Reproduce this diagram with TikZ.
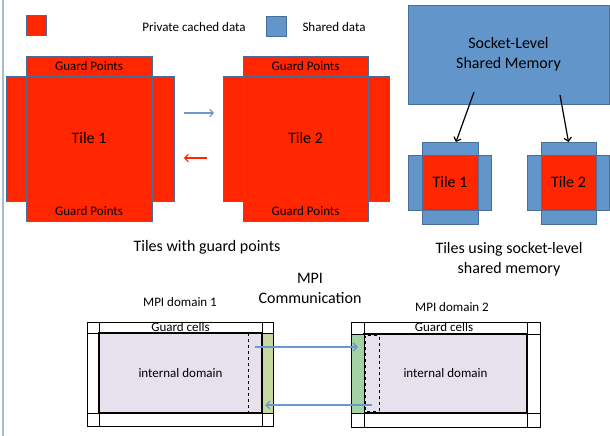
\documentclass[tikz,border=0pt]{standalone}
\usepackage{fontspec}
\setmainfont{Carlito}
\usetikzlibrary{positioning,arrows.meta}

\definecolor{cacheRed}{RGB}{255,38,0}
\definecolor{shareBlue}{RGB}{98,149,201}
\definecolor{edgeBlue}{RGB}{72,110,156}
\definecolor{arrowBlue}{RGB}{108,153,204}
\definecolor{domainFill}{RGB}{231,225,238}
\definecolor{sendGreen}{RGB}{198,216,160}
\definecolor{recvGreen}{RGB}{163,211,165}
\definecolor{frameGray}{RGB}{168,185,208}

\tikzset{
  cell/.style={draw=edgeBlue, line width=0.8bp, inner sep=0pt, outer sep=0pt},
  cached/.style={cell, fill=cacheRed},
  shared/.style={cell, fill=shareBlue},
  bigtxt/.style={font=\fontsize{16bp}{20bp}\selectfont},
  smalltxt/.style={font=\fontsize{13bp}{16bp}\selectfont},
  gridline/.style={line width=0.7bp},
  innerbox/.style={draw, line width=1.4bp, fill=domainFill, inner sep=0pt, outer sep=0pt},
  halobox/.style={draw, line width=0.7bp, inner sep=0pt, outer sep=0pt},
  thinarrow/.style={line width=1.2bp, -{Straight Barb[length=3.5bp,width=7.5bp]}},
  mpiarrow/.style={arrowBlue, line width=1.4bp, -{Straight Barb[length=4bp,width=8bp]}}
}

\begin{document}
\begin{tikzpicture}[x=1bp, y=-1bp]
	%%%%% START %%%%%
	\useasboundingbox (0,0) rectangle (610,436);
	\draw[frameGray, line width=2bp] (3,0) -- (3,436);
	
	% legend
	\node[cached, minimum size=20bp] (keyRed) at (36,25) {};
	\node[smalltxt] (keyRedTxt) at (194,27) {Private cached data};
	\node[shared, minimum size=20bp] (keyBlue) at (276,26) {};
	\node[smalltxt, anchor=west] (keyBlueTxt) at (299,27) {Shared data};
	
	% tiles with guard points
	\node[cached, bigtxt, minimum width=126bp, minimum height=125bp] (tileA) at (89,138.5) {Tile 1};
	\node[cached, smalltxt, minimum width=126bp, minimum height=20bp, above=0pt of tileA] (tileAn) {Guard Points};
	\node[cached, smalltxt, minimum width=126bp, minimum height=20bp, below=0pt of tileA] (tileAs) {Guard Points};
	\node[cached, minimum width=20bp, minimum height=125bp, left=0pt of tileA] (tileAw) {};
	\node[cached, minimum width=22bp, minimum height=125bp, right=0pt of tileA] (tileAe) {};
	
	\node[cached, bigtxt, minimum width=125bp, minimum height=125bp] (tileB) at (305.5,138.5) {Tile 2};
	\node[cached, smalltxt, minimum width=125bp, minimum height=20bp, above=0pt of tileB] (tileBn) {Guard Points};
	\node[cached, smalltxt, minimum width=125bp, minimum height=20bp, below=0pt of tileB] (tileBs) {Guard Points};
	\node[cached, minimum width=20bp, minimum height=125bp, left=0pt of tileB] (tileBw) {};
	\node[cached, minimum width=21bp, minimum height=125bp, right=0pt of tileB] (tileBe) {};
	
	\coordinate (sendA) at (184,113);
	\coordinate (sendB) at (214,113);
	\draw[arrowBlue, thinarrow] (sendA) -- (sendB);
	\coordinate (backB) at (207,158);
	\coordinate (backA) at (184,158);
	\draw[cacheRed, thinarrow] (backB) -- (backA);
	
	\node[bigtxt] (capGuard) at (207,247) {Tiles with guard points};
	
	% socket-level shared memory
	\node[shared, bigtxt, align=center, minimum width=201bp, minimum height=99bp] (socket) at (508.5,54.5) {Socket-Level\\Shared Memory};
	
	\node[cached, bigtxt, minimum width=56bp, minimum height=55bp] (smallA) at (450,182.5) {Tile 1};
	\node[shared, minimum width=56bp, minimum height=13bp, above=0pt of smallA] (smallAn) {};
	\node[shared, minimum width=56bp, minimum height=14bp, below=0pt of smallA] (smallAs) {};
	\node[shared, minimum width=14bp, minimum height=55bp, left=0pt of smallA] (smallAw) {};
	\node[shared, minimum width=13bp, minimum height=55bp, right=0pt of smallA] (smallAe) {};
	
	\node[cached, bigtxt, minimum width=55bp, minimum height=55bp] (smallB) at (568.5,182.5) {Tile 2};
	\node[shared, minimum width=55bp, minimum height=13bp, above=0pt of smallB] (smallBn) {};
	\node[shared, minimum width=55bp, minimum height=14bp, below=0pt of smallB] (smallBs) {};
	\node[shared, minimum width=14bp, minimum height=55bp, left=0pt of smallB] (smallBw) {};
	\node[shared, minimum width=13bp, minimum height=55bp, right=0pt of smallB] (smallBe) {};
	
	\coordinate (sockOutA) at (474,92);
	\coordinate (sockOutB) at (560,95);
	\draw[thinarrow] (sockOutA) -- ([xshift=6bp]smallAn.north);
	\draw[thinarrow] (sockOutB) -- (smallBn.north);
	
	\node[bigtxt, align=center] (capSocket) at (509,259) {Tiles using socket-level\\shared memory};
	
	% MPI domains
	\node[bigtxt, align=center] (mpiTitle) at (310,288) {MPI\\Communication};
	\node[smalltxt] (domLblA) at (180,302) {MPI domain 1};
	\node[smalltxt] (domLblB) at (452,307) {MPI domain 2};
	
	\draw[gridline] (87,322) rectangle (273,426);
	\draw[gridline] (99,322) -- (99,426) (262,322) -- (262,426) (87,333) -- (273,333) (87,413) -- (273,413);
	\node[innerbox, smalltxt, minimum width=163bp, minimum height=80bp] (innerA) at (180.5,373) {internal domain};
	\node[halobox, fill=sendGreen, minimum width=11bp, minimum height=80bp, right=0pt of innerA] (haloA) {};
	\draw[dashed, line width=0.8bp] ([xshift=-14bp]innerA.north east) -- ([xshift=-14bp]innerA.south east);
	\node[smalltxt] (guardA) at (180.5,327) {Guard cells};
	
	\draw[gridline] (351,322) rectangle (540,427);
	\draw[gridline] (364,322) -- (364,427) (527,322) -- (527,427) (351,334) -- (540,334) (351,413) -- (540,413);
	\node[innerbox, smalltxt, minimum width=163bp, minimum height=79bp] (innerB) at (445.5,373.5) {internal domain};
	\node[halobox, fill=recvGreen, minimum width=13bp, minimum height=79bp, left=0pt of innerB] (haloB) {};
	\draw[dashed, line width=0.8bp] ([xshift=1.5bp,yshift=-1.5bp]innerB.north west) rectangle ([xshift=15bp,yshift=1.5bp]innerB.south west);
	\node[smalltxt] (guardB) at (444,327.5) {Guard cells};
	
	\coordinate (mpiOutA) at (255,347);
	\coordinate (mpiInB) at (358,347);
	\draw[mpiarrow] (mpiOutA) -- (mpiInB);
	\coordinate (mpiOutB) at (372,405);
	\coordinate (mpiInA) at (265,405);
	\draw[mpiarrow] (mpiOutB) -- (mpiInA);
	%%%%% END %%%%%
\end{tikzpicture}
\end{document}
